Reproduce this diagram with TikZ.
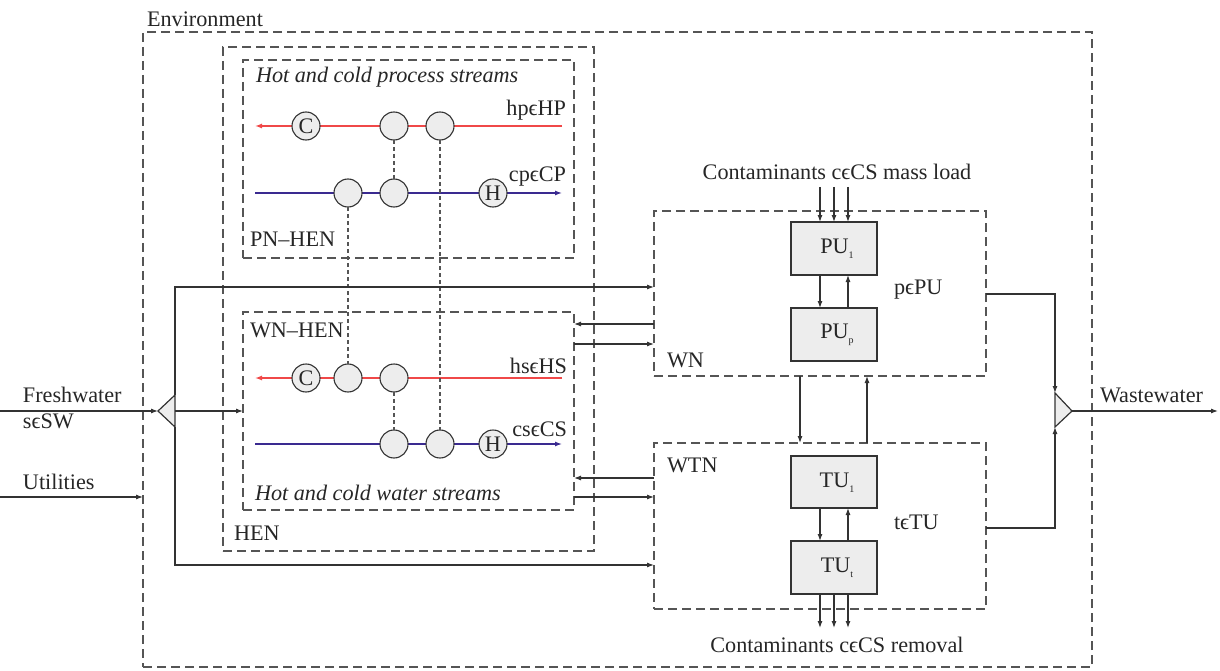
\documentclass[tikz,border=0pt]{standalone}
\usepackage{fontspec}
\setmainfont{Liberation Serif}
\usetikzlibrary{arrows.meta,calc}
\newcommand{\inn}{ϵ}
\newcommand{\sbs}[1]{\raisebox{-5pt}{\fontsize{10}{10}\selectfont #1}}
\definecolor{hotc}{HTML}{F04848}
\definecolor{coldc}{HTML}{3A2A90}
\definecolor{lineg}{HTML}{333333}
\definecolor{dashg}{HTML}{555555}
\definecolor{fillg}{HTML}{EDEDED}
\tikzset{
  every node/.style={font=\fontsize{22.2}{27}\selectfont, text=black!85, inner sep=0pt, outer sep=0pt},
  dbox/.style={draw=dashg, line width=1.2pt, dash pattern=on 9pt off 5pt, anchor=north west},
  ubox/.style={draw=lineg, fill=fillg, line width=1.2pt, minimum width=86pt, minimum height=53pt, anchor=north west},
  hx/.style={circle, draw=lineg, fill=fillg, line width=1.1pt, minimum size=28pt},
  arr/.style={draw=lineg, line width=1.1pt, -{Latex[length=7pt,width=5pt]}},
  hot/.style={draw=hotc, line width=1.3pt, -{Latex[length=7pt,width=5pt]}},
  cold/.style={draw=coldc, line width=1.3pt, -{Latex[length=7pt,width=5pt]}},
  link/.style={draw=dashg, line width=1.1pt, dash pattern=on 4pt off 3pt},
  lab/.style={anchor=west},
  itl/.style={anchor=west, font=\fontsize{22.2}{27}\selectfont\itshape},
  sj/.style={draw=lineg, fill=fillg, line width=1.2pt}
}
\begin{document}
\begin{tikzpicture}[x=1pt,y=-1pt]
\useasboundingbox (0,0) rectangle (1220,671);
% boxes
\node[dbox, minimum width=949pt, minimum height=635pt] (env) at (143,32) {};
\node[anchor=south west] (envl) at (147,27) {Environment};
\node[dbox, minimum width=371pt, minimum height=504pt] (hen) at (223,47) {};
\node[dbox, minimum width=331pt, minimum height=198pt] (pn) at (243,60) {};
\node[dbox, minimum width=331pt, minimum height=198pt] (wnh) at (243,312) {};
\node[dbox, minimum width=332pt, minimum height=165pt] (wn) at (654,211) {};
\node[dbox, minimum width=332pt, minimum height=166pt] (wtn) at (654,443) {};
\node[ubox] (pu1) at (791,222) {};
\node[ubox] (pup) at (791,308) {};
\node[ubox, minimum height=52pt] (tu1) at (791,456) {};
\node[ubox] (tut) at (791,541) {};
\node (pu1t) at (837,249) {PU\sbs{1}};
\node (pupt) at (837,335) {PU\sbs{p}};
\node (tu1t) at (837,483) {TU\sbs{1}};
\node (tutt) at (837,568) {TU\sbs{t}};
% labels
\node[itl] (pnt) at (256,77) {Hot and cold process streams};
\node[lab] (pnl) at (250,239) {PN\textendash HEN};
\node[lab] (wnhl) at (250,330) {WN\textendash HEN};
\node[itl] (wnht) at (255,493) {Hot and cold water streams};
\node[lab] (henl) at (234,533) {HEN};
\node[lab] (wnl) at (667,360) {WN};
\node[lab] (wtnl) at (667,465) {WTN};
\node[lab] (ppu) at (894,290) {p\inn PU};
\node[lab] (ttu) at (894,522) {t\inn TU};
\node (cml) at (837,172) {Contaminants c\inn CS mass load};
\node (crl) at (837,645) {Contaminants c\inn CS removal};
\node[anchor=east] (hpl) at (566,110) {hp\inn HP};
\node[anchor=east] (cpl) at (566,177) {cp\inn CP};
\node[anchor=east] (hsl) at (567,366) {hs\inn HS};
\node[anchor=east] (csl) at (567,429) {cs\inn CS};
\node[lab] (fwl) at (23,395) {Freshwater};
\node[lab] (swl) at (23,421) {s\inn SW};
\node[lab] (utl) at (23,482) {Utilities};
\node[lab] (wwl) at (1100,395) {Wastewater};
% streams
\coordinate (hp0) at (562,126); \coordinate (hp1) at (255,126);
\coordinate (cp0) at (255,193); \coordinate (cp1) at (562,193);
\coordinate (hs0) at (562,378); \coordinate (hs1) at (255,378);
\coordinate (cs0) at (255,444); \coordinate (cs1) at (562,444);
\draw[hot] (hp0) -- (hp1);
\draw[cold] (cp0) -- (cp1);
\draw[hot] (hs0) -- (hs1);
\draw[cold] (cs0) -- (cs1);
% exchangers
\node[hx] (pc) at (306,126) {C};
\node[hx] (ph2) at (394,126) {};
\node[hx] (ph3) at (440,126) {};
\node[hx] (pc1) at (348,193) {};
\node[hx] (pc2) at (394,193) {};
\node[hx] (ph) at (493,193) {H};
\node[hx] (wc) at (306,378) {C};
\node[hx] (wh2) at (348,378) {};
\node[hx] (wh3) at (394,378) {};
\node[hx] (wc1) at (394,444) {};
\node[hx] (wc2) at (440,444) {};
\node[hx] (wh) at (493,444) {H};
\draw[link] (ph2) -- (pc2);
\draw[link] (ph3) -- (wc2);
\draw[link] (pc1) -- (wh2);
\draw[link] (wh3) -- (wc1);
% splitter and mixer
\coordinate (sptip) at (158,411);
\coordinate (spr) at (175,411);
\coordinate (spt) at (175,395);
\coordinate (spb) at (175,427);
\coordinate (mxtip) at (1072,411);
\coordinate (mxt) at (1055,393);
\coordinate (mxb) at (1055,427);
\draw[sj] (sptip) -- (spt) -- (spb) -- cycle;
\draw[sj] (mxt) -- (mxtip) -- (mxb) -- cycle;
% left flows
\coordinate (fw0) at (0,411);
\draw[arr] (fw0) -- (sptip);
\coordinate (ut0) at (0,497);
\draw[arr] (ut0) -- (env.west |- ut0);
\coordinate (y287) at (0,287);
\coordinate (y565) at (0,565);
\draw[arr] (spt) -- (spt |- y287) -- (wn.west |- y287);
\draw[arr] (spb) -- (spb |- y565) -- (wtn.west |- y565);
\draw[arr] (spr) -- (wnh.west |- spr);
% WN-HEN <-> WN / WTN
\coordinate (y324) at (0,324); \coordinate (y344) at (0,344);
\coordinate (y478) at (0,478); \coordinate (y497) at (0,497);
\draw[arr] (wn.west |- y324) -- (wnh.east |- y324);
\draw[arr] (wnh.east |- y344) -- (wn.west |- y344);
\draw[arr] (wtn.west |- y478) -- (wnh.east |- y478);
\draw[arr] (wnh.east |- y497) -- (wtn.west |- y497);
% WN <-> WTN
\coordinate (x800) at (800,0); \coordinate (x867) at (867,0);
\draw[arr] (wn.south -| x800) -- (wtn.north -| x800);
\draw[arr] (wtn.north -| x867) -- (wn.south -| x867);
% unit links
\coordinate (x820) at (820,0); \coordinate (x834) at (834,0); \coordinate (x848) at (848,0);
\draw[arr] (pu1.south -| x820) -- (pup.north -| x820);
\draw[arr] (pup.north -| x848) -- (pu1.south -| x848);
\draw[arr] (tu1.south -| x820) -- (tut.north -| x820);
\draw[arr] (tut.north -| x848) -- (tu1.south -| x848);
\coordinate (y187) at (0,187); \coordinate (y628) at (0,628);
\foreach \xx in {x820,x834,x848}{
  \draw[arr] (\xx |- y187) -- (pu1.north -| \xx);
  \draw[arr] (tut.south -| \xx) -- (\xx |- y628);
}
% right flows
\coordinate (y294) at (0,294); \coordinate (y528) at (0,528);
\draw[arr] (wn.east |- y294) -- (mxt |- y294) -- (mxt);
\draw[arr] (wtn.east |- y528) -- (mxb |- y528) -- (mxb);
\coordinate (ww1) at (1218,411);
\draw[arr] (mxtip) -- (ww1);
\end{tikzpicture}
\end{document}
